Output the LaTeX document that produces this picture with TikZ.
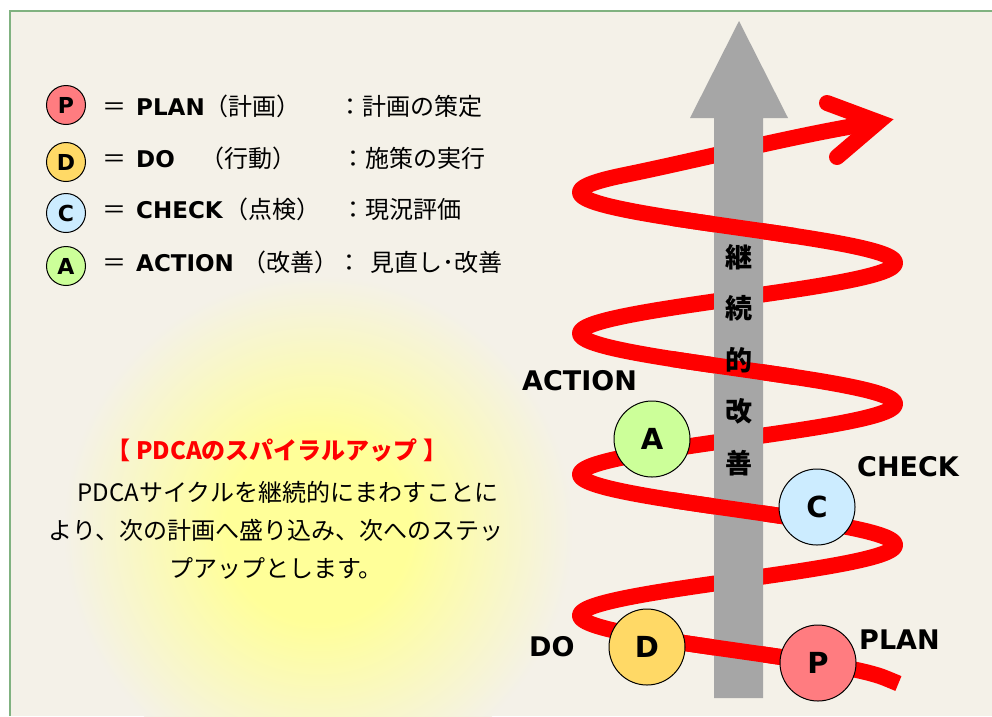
\documentclass[tikz,border=0pt]{standalone}
\usepackage{fontspec}
\newfontfamily\jp{Noto Sans CJK JP}
\newfontfamily\lat{DejaVu Sans}
\definecolor{bgc}{RGB}{244,241,232}
\definecolor{glowc}{RGB}{255,255,153}
\definecolor{framec}{RGB}{128,178,128}
\definecolor{redc}{RGB}{255,0,0}
\definecolor{grayc}{RGB}{166,166,166}
\definecolor{pc}{RGB}{255,124,128}
\definecolor{dc}{RGB}{255,217,102}
\definecolor{cc}{RGB}{204,236,255}
\definecolor{ac}{RGB}{204,255,153}
\pgfdeclareradialshading{glowshade}{\pgfpointorigin}{color(0bp)=(glowc); color(9bp)=(glowc); color(25bp)=(bgc); color(50bp)=(bgc)}
\begin{document}
\begin{tikzpicture}[x=1pt,y=-1pt,
  spiral/.style={draw=redc, line width=16, line cap=butt, line join=round},
  bigcirc/.style={circle, draw=black, line width=1, minimum size=76, inner sep=0, font=\lat\bfseries\fontsize{29}{29}\selectfont},
  legcirc/.style={circle, draw=black, line width=1, minimum size=39, inner sep=0, font=\lat\bfseries\fontsize{22}{22}\selectfont},
  lg/.style={anchor=base west, inner sep=0, font=\lat\bfseries\fontsize{23}{23}\selectfont},
  jpt/.style={anchor=base west, inner sep=0, font=\jp\fontsize{24}{24}\selectfont},
  eqs/.style={anchor=base, inner sep=0, font=\jp\fontsize{24}{24}\selectfont},
  lbl/.style={anchor=base west, inner sep=0, font=\lat\bfseries\fontsize{27}{27}\selectfont},
  vt/.style={inner sep=0, font=\jp\bfseries\fontsize{27}{27}\selectfont}]
\useasboundingbox (0,0) rectangle (992,716);
\fill[white] (0,0) rectangle (992,716);
\fill[bgc] (10,11) rectangle (992,716);
\begin{scope}
  \clip (10,11) rectangle (992,716);
  \shade[shading=glowshade] (318,530) circle (255);
\end{scope}
\draw[framec, line width=2] (10,716) -- (10,11) -- (992,11);

% whole spiral (back layer)
\draw[spiral] (898.4,683.5) -- plot[variable=\t, domain=0.35:22.78615, samples=500] ({737.5+157.5*cos(\t r)},{686-22.45*\t})
  .. controls (707,158) and (800,134) .. (878,122);
\draw[spiral, line cap=round, line join=miter] (827,103) -- (878,122) -- (837,157);

% gray arrow
\fill[grayc] (714,698) -- (714,118) -- (690,118) -- (739,21) -- (788,118) -- (763,118) -- (763,698) -- cycle;

% front segments (over the arrow)
\draw[spiral] plot[variable=\t, domain=1.2:2.0, samples=30] ({737.5+157.5*cos(\t r)},{686-22.45*\t});
\draw[spiral] plot[variable=\t, domain=7.48:8.28, samples=30] ({737.5+157.5*cos(\t r)},{686-22.45*\t});
\draw[spiral] plot[variable=\t, domain=13.77:14.57, samples=30] ({737.5+157.5*cos(\t r)},{686-22.45*\t});
\draw[spiral] plot[variable=\t, domain=20.05:20.85, samples=30] ({737.5+157.5*cos(\t r)},{686-22.45*\t});

% circles on spiral
\node[bigcirc, fill=pc] (P) at (818,663) {P};
\node[bigcirc, fill=dc] (D) at (647,647) {D};
\node[bigcirc, fill=cc] (C) at (817,507) {C};
\node[bigcirc, fill=ac] (A) at (652,439) {A};

% vertical text
\node[vt] (k1) at (739,257) {継};
\node[vt] (k2) at (739,308.5) {続};
\node[vt] (k3) at (739,360) {的};
\node[vt] (k4) at (739,411.5) {改};
\node[vt] (k5) at (739,463) {善};

% labels
\node[lbl] (lA) at (522,390) {ACTION};
\node[lbl] (lC) at (857,476) {CHECK};
\node[lbl] (lP) at (859,649) {PLAN};
\node[lbl] (lD) at (529,656) {DO};

% legend
\node[legcirc, fill=pc] (gP) at (66,105) {P};
\node[legcirc, fill=dc] (gD) at (66,162) {D};
\node[legcirc, fill=cc] (gC) at (66,213) {C};
\node[legcirc, fill=ac] (gA) at (66,266) {A};

\node[eqs] (eP) at (114.5,115) {＝};
\node[eqs] (eD) at (114.5,167) {＝};
\node[eqs] (eC) at (114.5,218) {＝};
\node[eqs] (eA) at (114.5,271) {＝};

\node[lg] (nP) at (136,115) {PLAN};
\node[lg] (nD) at (136,167) {DO};
\node[lg] (nC) at (136,218) {CHECK};
\node[lg] (nA) at (136,271) {ACTION};

\node[jpt] (pP) at (204,115) {（計画）};
\node[jpt] (pD) at (200,167) {（行動）};
\node[jpt] (pC) at (224,218) {（点検）};
\node[jpt] (pA) at (242,271) {（改善）};

\node[jpt] (dP) at (338,115) {：計画の策定};
\node[jpt] (dD) at (341,167) {：施策の実行};
\node[jpt] (dC) at (341,218) {：現況評価};
\node[jpt] (cA) at (337,271) {：};
\node[jpt] (dA) at (370,271) {見直し･改善};

% explanation
\node[inner sep=0, text=redc, font=\jp\bfseries\fontsize{24}{24}\selectfont] (title) at (277,450) {【 PDCAのスパイラルアップ 】};
\node[inner sep=0, align=center, font=\jp\fontsize{24}{38}\selectfont] (body) at (276,530) {　PDCAサイクルを継続的にまわすことに\\より、次の計画へ盛り込み、次へのステッ\\プアップとします。};
\end{tikzpicture}
\end{document}
